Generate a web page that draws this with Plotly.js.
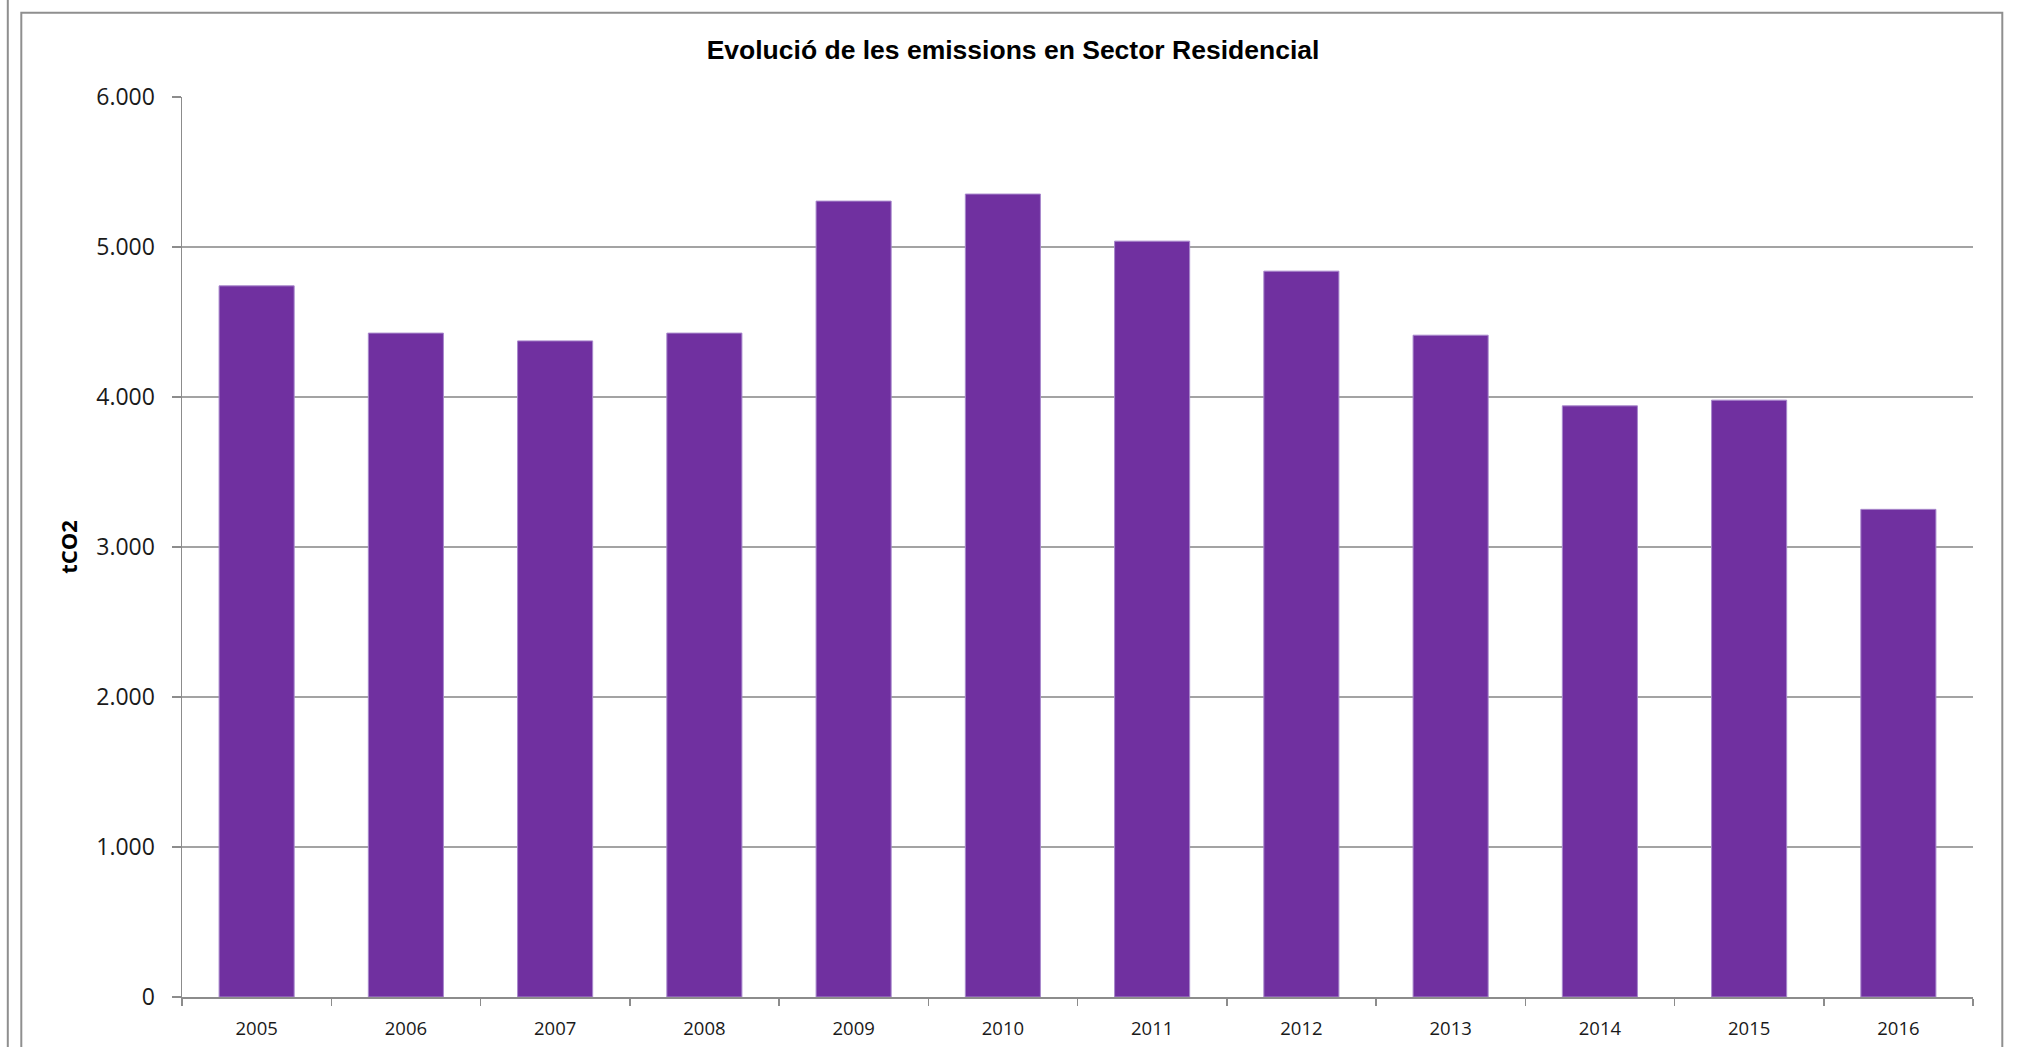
<!DOCTYPE html>
<html>
<head>
<meta charset="utf-8">
<script src="https://cdn.plot.ly/plotly-3.0.1.min.js"></script>
<style>
html,body{margin:0;padding:0;background:#fff;}
#chart{width:2026px;height:1047px;}
</style>
</head>
<body>
<div id="chart"></div>
<script>
const years = ['2005','2006','2007','2008','2009','2010','2011','2012','2013','2014','2015','2016'];
const emissions = [4741, 4426, 4374, 4426, 5306, 5353, 5039, 4839, 4412, 3941, 3979, 3251];
const chartTitle = 'Evolució de les emissions en Sector Residencial';
const yTitle = 'tCO2';

const L = 181.7, R = 1972.7, T = 97.3, B = 996.7, W = 2026, H = 1047;
const px = x => (x - L) / (R - L);
const py = y => (B - y) / (B - T);
const frame = '#8f8f8f';

const trace = {
  type: 'bar',
  x: years,
  y: emissions,
  marker: {color: '#7030A0', line: {color: '#a888cc', width: 1}},
  hoverinfo: 'x+y'
};

const layout = {
  width: W, height: H,
  margin: {l: L, r: W - R, t: T, b: H - B, pad: 0},
  paper_bgcolor: '#ffffff',
  plot_bgcolor: '#ffffff',
  separators: ',.',
  showlegend: false,
  bargap: 0.497,
  title: {
    text: '<b>' + chartTitle + '</b>',
    font: {family: '"Liberation Sans", Arial, sans-serif', size: 26.5, color: '#000'},
    x: 0.5, xanchor: 'center', xref: 'container',
    y: 1 - 50 / H, yanchor: 'middle', yref: 'container'
  },
  xaxis: {
    type: 'category',
    showline: true, linecolor: '#8c8c8c', linewidth: 1.5,
    ticks: 'outside', tickson: 'boundaries', ticklen: 7, tickcolor: '#8c8c8c', tickwidth: 1.5,
    showgrid: false, zeroline: false,
    tickfont: {family: '"Open Sans", "Noto Sans", sans-serif', size: 18.5, color: '#1a1a1a'},
    ticklabelstandoff: 14
  },
  yaxis: {
    range: [0, 6000], dtick: 1000, tick0: 0, tickformat: ',.0f',
    showline: true, linecolor: '#8c8c8c', linewidth: 1.5,
    ticks: 'outside', ticklen: 9, tickcolor: '#8c8c8c', tickwidth: 1.5,
    showgrid: true, gridcolor: '#a3a3a3', gridwidth: 1.5,
    zeroline: false,
    tickfont: {family: '"Open Sans", "Noto Sans", sans-serif', size: 23, color: '#1a1a1a'},
    ticklabelstandoff: 12,
    title: {
      text: '<b>' + yTitle + '</b>',
      font: {family: '"Open Sans", "Noto Sans", sans-serif', size: 22, color: '#000'},
      standoff: 12
    }
  },
  shapes: [
    {type: 'rect', xref: 'paper', yref: 'paper', x0: px(21), x1: px(2002), y0: py(1060), y1: py(13),
     line: {color: frame, width: 2}, fillcolor: 'rgba(0,0,0,0)', layer: 'below'},
    {type: 'line', xref: 'paper', yref: 'paper', x0: px(7.5), x1: px(7.5), y0: py(1060), y1: py(0),
     line: {color: frame, width: 2}, layer: 'below'}
  ]
};

Plotly.newPlot('chart', [trace], layout, {displayModeBar: false, staticPlot: true});
</script>
</body>
</html>
